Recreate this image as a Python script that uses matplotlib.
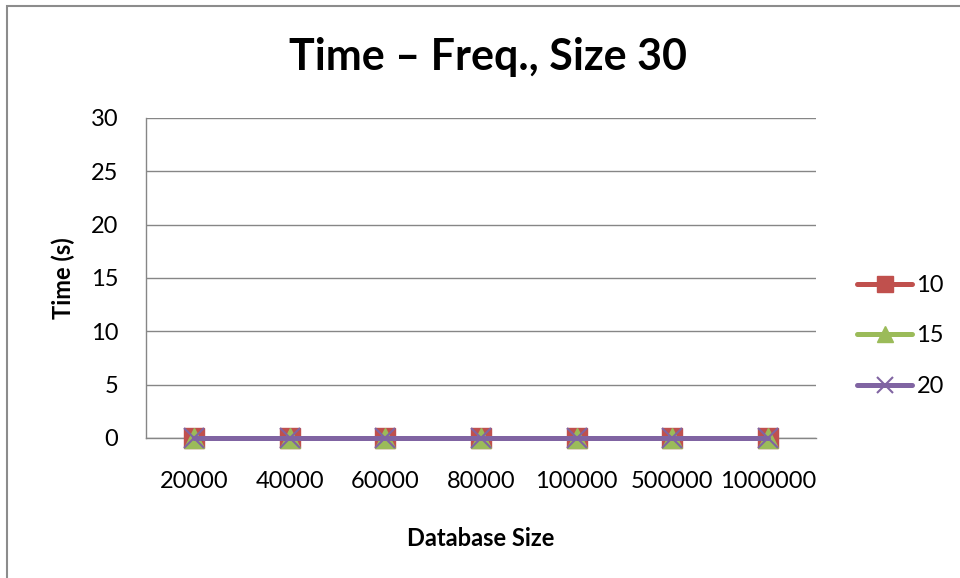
import numpy as np
import matplotlib.pyplot as plt
from matplotlib.patches import Rectangle

plt.rcParams['font.family'] = ['Lato', 'DejaVu Sans']

db_sizes = ['20000', '40000', '60000', '80000', '100000', '500000', '1000000']
time_freq10 = [0.02, 0.02, 0.02, 0.02, 0.02, 0.02, 0.02]
time_freq15 = [0.02, 0.02, 0.02, 0.02, 0.02, 0.02, 0.02]
time_freq20 = [0.02, 0.02, 0.02, 0.02, 0.02, 0.02, 0.02]
y_ticks = [0, 5, 10, 15, 20, 25, 30]

fig = plt.figure(figsize=(9.6, 5.78), dpi=100)
# chart frame (only left/top edges fall inside the image)
fig.patches.append(Rectangle((7/960, -0.1), 1.2, 1 - 6/578 + 0.1,
                             transform=fig.transFigure, fill=False,
                             edgecolor='#8c8c8c', linewidth=1.5))

ax = fig.add_axes([146/960, 1 - 438/578, 670/960, 320/578])
x = np.arange(len(db_sizes))

series = [
    (time_freq10, '#C0504D', 's', '10'),
    (time_freq15, '#9BBB59', '^', '15'),
    (time_freq20, '#8064A2', 'x', '20'),
]
for i, (vals, col, mk, lab) in enumerate(series):
    ax.plot(x, vals, color=col, linewidth=3.6, marker=mk, markersize=14,
            markeredgewidth=1.5 if mk == 'x' else 1, label=lab,
            zorder=3 + i, clip_on=False, solid_capstyle='round')

ax.set_xlim(-0.5, len(db_sizes) - 0.5)
ax.set_ylim(0, 30)
ax.set_yticks(y_ticks)
ax.set_xticks(x)
ax.set_xticklabels(db_sizes)
ax.tick_params(length=0, labelsize=17)
ax.tick_params(axis='x', pad=24)
ax.tick_params(axis='y', pad=20)
ax.yaxis.grid(True, color='#868686', linewidth=1)
ax.set_axisbelow(True)
for side in ['top', 'right']:
    ax.spines[side].set_visible(False)
for side in ['left', 'bottom']:
    ax.spines[side].set_color('#868686')
    ax.spines[side].set_linewidth(1)

ax.set_xlabel('Database Size', fontsize=17, fontweight='bold', labelpad=25)
ax.set_ylabel('Time (s)', fontsize=17, fontweight='bold', labelpad=11)
fig.text(488/960, 1 - 57/578, 'Time \u2013 Freq., Size 30', fontsize=31,
         fontweight='bold', ha='center', va='center')

fig.legend(loc='center left', bbox_to_anchor=(848/960, 1 - 336/578),
           frameon=False, fontsize=17, handlelength=2.3, handletextpad=0.2,
           labelspacing=1.25, markerscale=0.85, borderaxespad=0)

fig.savefig('out.png', dpi=100)
